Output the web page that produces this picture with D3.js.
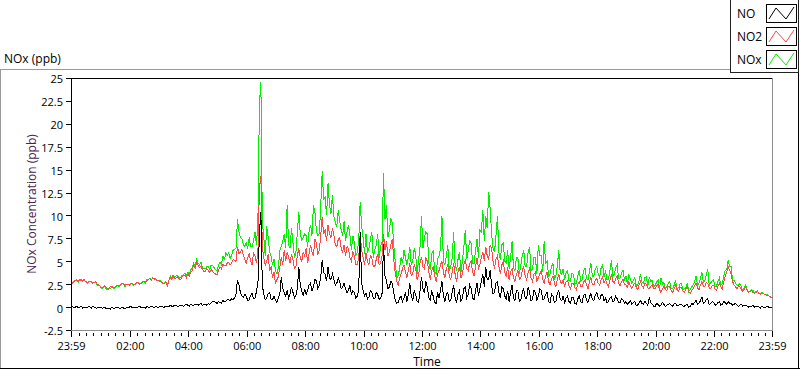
<!DOCTYPE html>
<html>
<head>
<meta charset="utf-8">
<script src="https://cdn.jsdelivr.net/npm/d3@7"></script>
<style>
  html, body { margin: 0; padding: 0; background: #fff; }
  svg { display: block; font-family: "Open Sans", "Noto Sans", sans-serif; }
</style>
</head>
<body>
<div id="chart"></div>
<script>
// ---------------- DATA ----------------
const chartTitle = "NOx (ppb)";
const yAxisTitle = "NOx Concentration (ppb)";
const xAxisTitle = "Time";
const seriesNames = ["NO", "NO2", "NOx"];
const seriesColors = ["#000000", "#ff4848", "#00f000"];
const startTime = new Date(2020, 0, 1, 23, 59);   // 23:59 previous day
const endTime = new Date(2020, 0, 2, 23, 59);     // 23:59
const stepMinutes = 3;                             // sample spacing
const yTickValues = [-2.5, 0, 2.5, 5, 7.5, 10, 12.5, 15, 17.5, 20, 22.5, 25];
const xTickLabels = ["23:59", "02:00", "04:00", "06:00", "08:00", "10:00", "12:00", "14:00", "16:00", "18:00", "20:00", "22:00", "23:59"];

// NO (ppb), one row per hour, 3-minute samples
const NO = [
  0.0,0.1,-0.1,0.0,0.1,-0.1,0.0,0.1,-0.1,0.0,0.0,-0.1,0.1,0.0,-0.1,0.1,0.0,-0.1,-0.1,0.0,
  0.0,-0.1,-0.1,0.0,-0.2,-0.1,-0.1,-0.2,0.0,-0.1,-0.1,0.0,0.0,-0.1,-0.1,0.0,-0.1,-0.2,0.0,0.0,
  0.0,0.1,-0.1,0.0,0.0,-0.1,0.0,0.1,-0.1,0.0,0.0,-0.1,0.1,0.0,0.0,0.1,0.0,-0.1,0.1,0.0,
  0.0,0.1,0.1,0.0,0.0,0.1,0.1,0.0,0.2,0.1,0.1,0.2,0.2,0.1,0.1,0.2,0.2,0.1,0.2,0.3,
  0.2,0.1,0.3,0.2,0.2,0.3,0.3,0.2,0.3,0.4,0.2,0.3,0.3,0.2,0.4,0.3,0.5,0.6,0.6,0.5,
  0.4,0.6,0.5,0.4,0.7,0.6,0.6,0.8,0.8,0.7,0.9,0.8,1.0,1.4,3.0,2.4,1.6,1.2,1.1,1.4,
  1.2,0.7,0.8,1.3,1.5,0.9,1.0,1.7,2.6,8.0,10.4,2.4,1.4,0.8,1.0,1.5,1.6,0.9,0.8,1.2,
  0.8,0.5,1.0,1.4,3.3,2.0,1.6,1.2,1.8,1.0,1.4,2.2,1.6,1.0,1.3,2.0,4.4,2.4,1.8,1.2,
  2.0,1.4,1.8,2.4,2.6,1.8,2.2,3.0,2.9,2.0,2.4,3.2,5.1,3.8,3.6,2.8,4.4,3.2,3.0,3.6,
  3.0,2.4,2.6,3.2,2.8,2.0,2.2,2.6,2.0,1.6,1.8,2.4,1.4,1.8,1.6,1.0,1.2,1.8,8.2,2.6,
  1.8,1.2,1.5,0.9,1.1,1.8,1.6,1.0,0.9,1.6,1.4,0.8,1.0,1.5,6.9,3.4,2.9,2.0,2.2,2.8,
  2.6,1.6,0.8,0.4,0.5,1.0,1.2,0.6,1.0,1.6,0.6,1.4,2.6,1.2,0.7,1.8,1.4,0.6,0.5,1.8,
  3.3,2.0,1.5,2.8,2.2,1.0,0.8,1.8,1.2,0.5,0.4,1.6,1.0,1.8,2.8,1.2,0.6,1.4,1.6,0.6,
  0.7,1.6,2.4,1.0,0.5,1.4,1.8,0.6,1.0,2.0,2.2,1.0,1.4,2.4,2.0,1.0,0.8,1.8,2.6,1.2,
  2.0,2.8,3.6,2.2,4.4,3.0,3.0,4.0,2.4,1.4,1.6,2.6,2.8,1.6,1.0,2.2,2.0,1.2,0.9,1.8,
  0.6,1.6,2.4,1.0,0.7,1.8,1.8,0.6,0.8,1.6,2.0,1.0,0.9,2.2,1.6,0.7,0.8,1.8,1.6,0.8,
  1.2,2.0,1.8,0.8,0.9,1.4,1.6,0.6,0.5,1.4,1.2,0.5,0.6,1.5,1.8,0.9,0.7,1.2,0.4,1.0,
  1.2,0.6,0.4,1.1,1.0,0.4,0.3,0.9,1.2,0.6,0.5,1.3,1.4,0.7,0.5,1.1,1.5,0.8,0.7,1.3,
  1.6,1.0,0.8,1.3,1.4,0.7,1.0,0.5,0.6,1.0,1.1,0.6,0.7,1.2,0.9,0.5,0.5,0.9,0.8,0.4,
  0.6,0.3,0.5,0.7,0.3,0.5,0.6,0.2,0.2,0.5,0.7,0.4,0.3,0.6,0.4,0.2,1.1,0.5,0.3,0.1,
  0.1,0.4,0.3,0.1,0.2,0.5,0.3,0.1,0.2,0.3,0.4,0.2,0.1,0.4,0.4,0.1,0.2,0.3,0.3,0.1,
  0.1,0.2,0.3,0.0,0.1,0.4,0.3,0.5,0.8,0.3,0.4,0.7,1.1,0.4,0.5,0.8,0.9,0.3,0.4,0.6,
  0.5,0.2,0.3,0.5,0.6,0.2,0.3,0.6,0.5,0.3,0.6,0.4,0.4,0.2,0.3,0.4,0.2,0.1,0.2,0.3,
  0.1,0.2,0.2,0.1,0.0,0.1,0.1,0.2,0.0,0.1,0.1,0.0,-0.1,0.1,0.0,-0.1,0.0,0.1,-0.1,0.0,
  -0.1
];

// NO2 (ppb)
const NO2 = [
  2.7,2.6,2.8,2.9,2.9,2.8,3.0,2.9,2.9,3.0,2.8,2.7,2.7,2.8,2.8,2.6,2.7,2.8,2.5,2.4,
  2.3,2.1,2.2,2.3,2.2,2.0,2.1,2.2,2.3,2.1,2.2,2.3,2.4,2.3,2.5,2.6,2.6,2.4,2.5,2.5,
  2.4,2.5,2.6,2.4,2.5,2.7,2.7,2.5,2.6,2.8,2.8,2.7,2.9,3.0,3.1,2.9,3.2,3.1,3.0,2.9,
  2.9,2.8,2.7,2.6,2.6,2.7,2.3,2.9,3.2,3.0,3.4,3.1,3.2,3.3,3.1,3.0,3.3,3.4,3.5,3.2,
  3.6,3.4,3.8,4.0,4.6,4.2,4.9,4.6,4.3,4.5,4.1,3.9,3.9,4.2,4.0,3.8,4.1,3.9,3.7,3.6,
  3.5,4.0,4.4,4.2,4.7,4.5,4.5,4.8,4.9,4.6,4.8,5.2,5.1,5.0,6.6,5.8,6.0,6.3,5.7,5.2,
  4.8,5.4,5.8,5.0,4.6,5.9,5.6,4.8,6.1,13.0,14.3,6.6,5.4,4.6,5.0,5.8,4.0,4.4,3.2,3.8,
  2.6,3.0,3.3,4.4,5.5,4.6,6.2,5.0,6.0,5.4,4.8,5.8,5.2,4.2,4.4,5.6,6.4,5.4,5.0,6.0,
  5.6,6.4,4.8,5.8,6.8,6.0,5.6,7.4,7.0,5.8,6.2,7.8,9.8,8.0,8.4,7.2,9.0,8.0,7.6,8.6,
  7.8,6.8,6.6,7.4,7.6,6.4,6.0,6.8,5.6,6.6,6.4,5.4,5.0,6.0,5.6,4.6,4.6,5.4,8.0,6.2,
  5.4,4.6,5.9,5.0,4.6,5.6,5.4,4.4,4.4,5.2,5.8,4.6,4.8,5.6,8.0,6.2,7.2,5.6,6.0,6.8,
  7.4,5.2,3.8,2.8,2.4,3.2,3.6,4.2,4.6,3.8,3.2,4.0,4.8,3.4,3.6,4.6,4.2,3.0,3.4,4.8,
  5.5,4.4,4.2,5.4,5.0,3.8,3.0,4.0,4.4,3.4,2.8,3.6,4.0,4.6,5.0,3.8,3.2,4.2,4.6,3.4,
  3.0,3.8,4.8,3.6,2.8,3.8,4.4,3.2,3.6,4.6,5.2,4.2,4.0,4.8,5.0,3.8,3.4,4.4,5.4,4.2,
  4.6,5.4,6.0,5.0,6.6,5.6,5.2,6.8,6.4,5.0,4.2,5.2,5.6,4.4,3.6,4.6,5.0,3.8,3.4,4.4,
  3.0,3.8,4.2,3.2,2.8,3.6,4.0,3.0,3.2,4.0,4.4,3.4,3.0,3.8,4.2,3.2,2.8,3.6,3.8,2.8,
  3.2,3.6,4.0,3.0,2.6,3.4,3.8,2.8,2.4,3.0,3.4,2.6,2.2,3.0,3.6,2.8,2.6,3.0,2.2,2.8,
  2.9,2.3,2.0,2.6,2.6,2.1,1.9,2.5,2.8,2.2,2.2,2.7,3.0,2.4,2.0,2.8,3.2,2.5,2.4,2.9,
  3.1,2.6,2.4,3.0,3.3,2.6,3.0,2.5,2.2,2.9,3.6,2.8,2.6,3.1,3.4,2.6,2.3,2.8,3.0,2.5,
  2.4,2.2,2.8,2.3,2.0,2.4,2.6,2.2,1.9,2.4,2.8,2.3,2.1,2.6,2.5,2.1,2.0,2.3,2.4,2.0,
  2.0,2.3,2.5,1.9,1.6,2.0,2.3,1.9,1.8,2.3,2.2,1.8,1.6,2.0,2.4,1.9,1.7,2.2,2.1,1.8,
  1.6,1.9,2.2,1.7,1.5,1.8,2.0,2.3,2.6,2.1,1.9,2.4,2.8,2.3,2.2,2.7,2.6,2.1,2.0,2.3,
  2.4,2.0,1.8,2.3,2.6,2.2,2.0,2.8,3.4,3.8,4.4,4.0,3.6,2.8,2.4,2.2,2.0,2.3,2.2,1.9,
  1.7,1.9,2.2,1.8,1.6,1.7,1.8,1.6,1.5,1.6,1.7,1.5,1.4,1.5,1.5,1.4,1.3,1.3,1.2,1.1,
  1.1
];

// NOx (ppb)
const NOx = [
  2.7,2.7,2.7,2.9,3.0,2.7,3.0,3.0,2.8,3.0,2.8,2.6,2.8,2.8,2.7,2.7,2.7,2.7,2.4,2.4,
  2.3,2.0,2.1,2.3,2.0,1.9,2.0,2.0,2.3,2.0,2.1,2.3,2.4,2.2,2.4,2.6,2.5,2.2,2.5,2.5,
  2.4,2.6,2.5,2.4,2.5,2.6,2.7,2.6,2.5,2.8,2.8,2.6,3.0,3.0,3.1,3.0,3.2,3.0,3.1,2.9,
  2.9,2.9,2.8,2.6,2.6,2.8,2.4,2.9,3.4,3.1,3.5,3.3,3.4,3.4,3.2,3.2,3.5,3.5,3.7,3.5,
  3.8,3.5,4.1,4.2,4.8,4.5,5.2,4.8,4.6,4.9,4.3,4.2,4.2,4.4,4.4,4.1,4.6,4.5,4.3,4.1,
  3.9,4.6,4.9,4.6,5.6,5.1,5.9,5.6,5.9,5.3,5.7,6.2,6.3,6.4,9.6,8.2,7.6,7.5,6.8,6.6,
  7.0,6.4,7.6,6.6,6.6,7.2,8.2,6.8,9.5,22.0,24.6,9.4,7.6,5.6,8.8,7.6,6.0,5.6,4.6,5.2,
  4.0,3.6,4.4,6.2,6.6,7.2,8.0,6.4,11.1,6.8,6.4,8.6,7.0,5.4,6.0,8.2,10.4,8.0,7.3,7.6,
  8.0,7.8,6.6,8.2,9.0,7.8,11.1,10.4,8.4,7.8,8.0,11.0,14.8,11.8,12.0,10.0,13.5,11.2,10.2,12.2,
  9.9,9.2,8.8,10.6,9.4,8.4,7.8,9.4,7.2,8.2,8.9,7.8,6.2,7.8,7.0,5.6,6.0,7.2,11.5,8.8,
  7.6,5.8,8.0,5.9,6.4,7.4,8.2,5.4,6.2,6.8,8.0,5.4,6.6,7.1,14.6,9.6,11.1,7.6,8.4,9.6,
  9.2,6.8,5.0,3.2,3.4,4.2,5.4,4.8,6.2,5.4,4.6,5.4,6.6,4.6,5.0,6.4,5.8,3.6,5.2,6.6,
  9.9,6.4,7.6,8.2,8.0,4.8,4.0,5.8,6.2,3.9,3.6,5.2,5.6,6.4,9.9,5.0,4.6,5.6,6.8,4.0,
  4.4,5.4,8.2,4.6,4.0,5.2,6.0,3.8,5.0,6.6,8.4,5.2,6.2,7.2,7.0,4.8,4.8,6.2,7.4,5.4,
  8.4,8.2,10.6,7.2,9.9,8.6,12.6,10.8,8.0,6.4,6.0,7.8,9.9,6.0,5.2,6.8,7.0,5.0,4.8,6.2,
  4.2,5.4,7.2,4.2,4.0,5.4,5.4,3.6,4.6,5.6,6.2,4.4,4.4,6.0,6.6,3.9,4.2,5.4,5.4,3.6,
  6.8,5.6,5.6,3.8,7.2,4.8,5.0,3.4,3.6,4.4,4.8,3.1,3.4,4.5,6.2,3.7,3.6,4.2,3.0,3.8,
  4.0,2.9,2.8,3.7,3.6,2.5,2.6,3.4,4.0,2.8,3.0,4.0,4.2,3.1,3.0,3.9,4.8,3.3,3.4,4.2,
  4.4,3.6,3.2,4.3,4.6,3.3,4.0,3.0,3.0,3.9,5.1,3.4,3.6,4.3,4.6,3.1,3.2,3.7,4.0,2.9,
  3.4,2.5,3.6,3.0,2.6,2.9,3.2,2.4,2.4,2.9,3.6,2.7,2.6,3.2,3.3,2.3,3.3,2.8,2.9,2.1,
  2.4,2.7,3.0,2.0,3.2,2.5,2.7,2.0,2.2,2.6,2.8,2.0,2.0,2.4,2.9,2.0,2.1,2.5,2.6,1.9,
  2.0,2.1,2.6,1.7,1.9,2.2,2.4,2.8,3.4,2.4,2.6,3.1,3.8,2.7,2.9,3.5,4.2,2.4,2.6,2.9,
  3.0,2.2,2.3,2.8,3.2,2.4,2.6,3.4,4.0,4.1,5.1,4.4,4.4,3.0,2.9,2.6,2.4,2.4,2.6,2.2,
  1.8,2.1,2.4,1.9,1.6,1.8,1.9,1.8,1.5,1.7,1.8,1.5,1.4,1.6,1.5,1.4,1.3,1.4,1.2,1.1,
  1.1
];

// ---------------- CHART ----------------
const W = 800, H = 369;
const P = { left: 71, right: 772, top: 78, bottom: 330 };

const svg = d3.select("#chart").append("svg")
  .attr("width", W).attr("height", H);

const x = d3.scaleTime().domain([startTime, endTime]).range([P.left, P.right]);
const y = d3.scaleLinear().domain([-2.5, 25]).range([P.bottom, P.top]);

const timeAt = i => new Date(startTime.getTime() + i * stepMinutes * 60000);

// outer frame
const frame = svg.append("g").attr("shape-rendering", "crispEdges");
frame.append("line").attr("x1", 0).attr("x2", 730).attr("y1", 69.5).attr("y2", 69.5).attr("stroke", "#9a9a9a");
frame.append("line").attr("x1", 0.5).attr("x2", 0.5).attr("y1", 69).attr("y2", 369).attr("stroke", "#9a9a9a");
frame.append("line").attr("x1", 0).attr("x2", 800).attr("y1", 368.5).attr("y2", 368.5).attr("stroke", "#000");
frame.append("line").attr("x1", 798.5).attr("x2", 798.5).attr("y1", 72).attr("y2", 369).attr("stroke", "#000");

// chart title
svg.append("text").attr("x", 4).attr("y", 62.5)
  .attr("font-size", 12).attr("fill", "#000").text(chartTitle);

// data lines (clipped)
svg.append("clipPath").attr("id", "plotclip").append("rect")
  .attr("x", P.left + 1).attr("y", P.top + 1)
  .attr("width", P.right - P.left - 1).attr("height", P.bottom - P.top - 1);

const lineGen = d3.line()
  .x((d, i) => x(timeAt(i)))
  .y(d => y(d));

const plotG = svg.append("g").attr("clip-path", "url(#plotclip)");
const drawOrder = [2, 1, 0];
const seriesData = [NO, NO2, NOx];
drawOrder.forEach(k => {
  plotG.append("path")
    .datum(seriesData[k])
    .attr("d", lineGen)
    .attr("fill", "none")
    .attr("stroke", seriesColors[k])
    .attr("stroke-width", 1)
    .attr("shape-rendering", "crispEdges");
});

// plot border
const border = svg.append("g").attr("shape-rendering", "crispEdges");
border.append("line").attr("x1", P.left).attr("x2", P.right + 1).attr("y1", P.top + 0.5).attr("y2", P.top + 0.5).attr("stroke", "#000");
border.append("line").attr("x1", P.left + 0.5).attr("x2", P.left + 0.5).attr("y1", P.top).attr("y2", P.bottom + 1).attr("stroke", "#000");
border.append("line").attr("x1", P.right + 0.5).attr("x2", P.right + 0.5).attr("y1", P.top).attr("y2", P.bottom + 1).attr("stroke", "#8c8c8c");
border.append("line").attr("x1", P.left).attr("x2", P.right + 1).attr("y1", P.bottom + 0.5).attr("y2", P.bottom + 0.5).attr("stroke", "#8c8c8c");

// y axis
const yAxis = d3.axisLeft(y).tickValues(yTickValues).tickSize(5).tickPadding(3)
  .tickFormat(d => String(d));
const gy = svg.append("g").attr("transform", `translate(${P.left},0)`).call(yAxis);
gy.select(".domain").remove();
gy.selectAll(".tick line").attr("stroke", "#000").attr("shape-rendering", "crispEdges");
gy.selectAll(".tick text").attr("font-size", 11).attr("font-family", "Open Sans, sans-serif")
  .attr("fill", "#000").attr("dy", "0.45em");

// x axis (major)
const xTickDates = xTickLabels.map((s, i) => {
  if (i === 0) return startTime;
  if (i === xTickLabels.length - 1) return endTime;
  const [hh, mm] = s.split(":").map(Number);
  return new Date(2020, 0, 2, hh, mm);
});
const xAxis = d3.axisBottom(x).tickValues(xTickDates).tickSize(6).tickPadding(5)
  .tickFormat((d, i) => xTickLabels[i]);
const gx = svg.append("g").attr("transform", `translate(0,${P.bottom + 1})`).call(xAxis);
gx.select(".domain").remove();
gx.selectAll(".tick line").attr("stroke", "#000").attr("shape-rendering", "crispEdges");
gx.selectAll(".tick text").attr("font-size", 11).attr("font-family", "Open Sans, sans-serif")
  .attr("fill", "#000");

// x axis minor ticks every 15 minutes
const minorTicks = d3.timeMinute.every(15).range(new Date(2020, 0, 2, 0, 15), endTime)
  .filter(d => d.getMinutes() !== 0 || d.getHours() % 2 !== 0);
svg.append("g").attr("shape-rendering", "crispEdges")
  .selectAll("line").data(minorTicks).join("line")
  .attr("x1", d => Math.round(x(d)) + 0.5).attr("x2", d => Math.round(x(d)) + 0.5)
  .attr("y1", P.bottom + 3).attr("y2", P.bottom + 6)
  .attr("stroke", "#000");

// axis titles
svg.append("text").attr("x", 427).attr("y", 365.5).attr("text-anchor", "middle")
  .attr("font-size", 12).attr("fill", "#000").text(xAxisTitle);
svg.append("text")
  .attr("transform", `translate(36,${(P.top + P.bottom) / 2}) rotate(-90)`)
  .attr("text-anchor", "middle").attr("font-size", 12).attr("fill", "#4a2450")
  .text(yAxisTitle);

// legend
const lg = svg.append("g").attr("shape-rendering", "crispEdges");
lg.append("rect").attr("x", 730.5).attr("y", -0.5).attr("width", 68).attr("height", 73)
  .attr("fill", "#fff").attr("stroke", "#222");
const legendTop = [4, 27, 50];
seriesNames.forEach((name, i) => {
  const ty = legendTop[i];
  svg.append("text").attr("x", 737).attr("y", ty + 13.5)
    .attr("font-size", 12).attr("fill", "#000").text(name);
  svg.append("rect").attr("x", 766.5).attr("y", ty + 0.5).attr("width", 30).attr("height", 18)
    .attr("fill", "#fff").attr("stroke", "#000").attr("shape-rendering", "crispEdges");
  svg.append("path")
    .attr("d", `M${769},${ty + 15} L${776},${ty + 4} L${786},${ty + 15} L${794},${ty + 3}`)
    .attr("fill", "none").attr("stroke", seriesColors[i]).attr("stroke-width", 1);
});
</script>
</body>
</html>
